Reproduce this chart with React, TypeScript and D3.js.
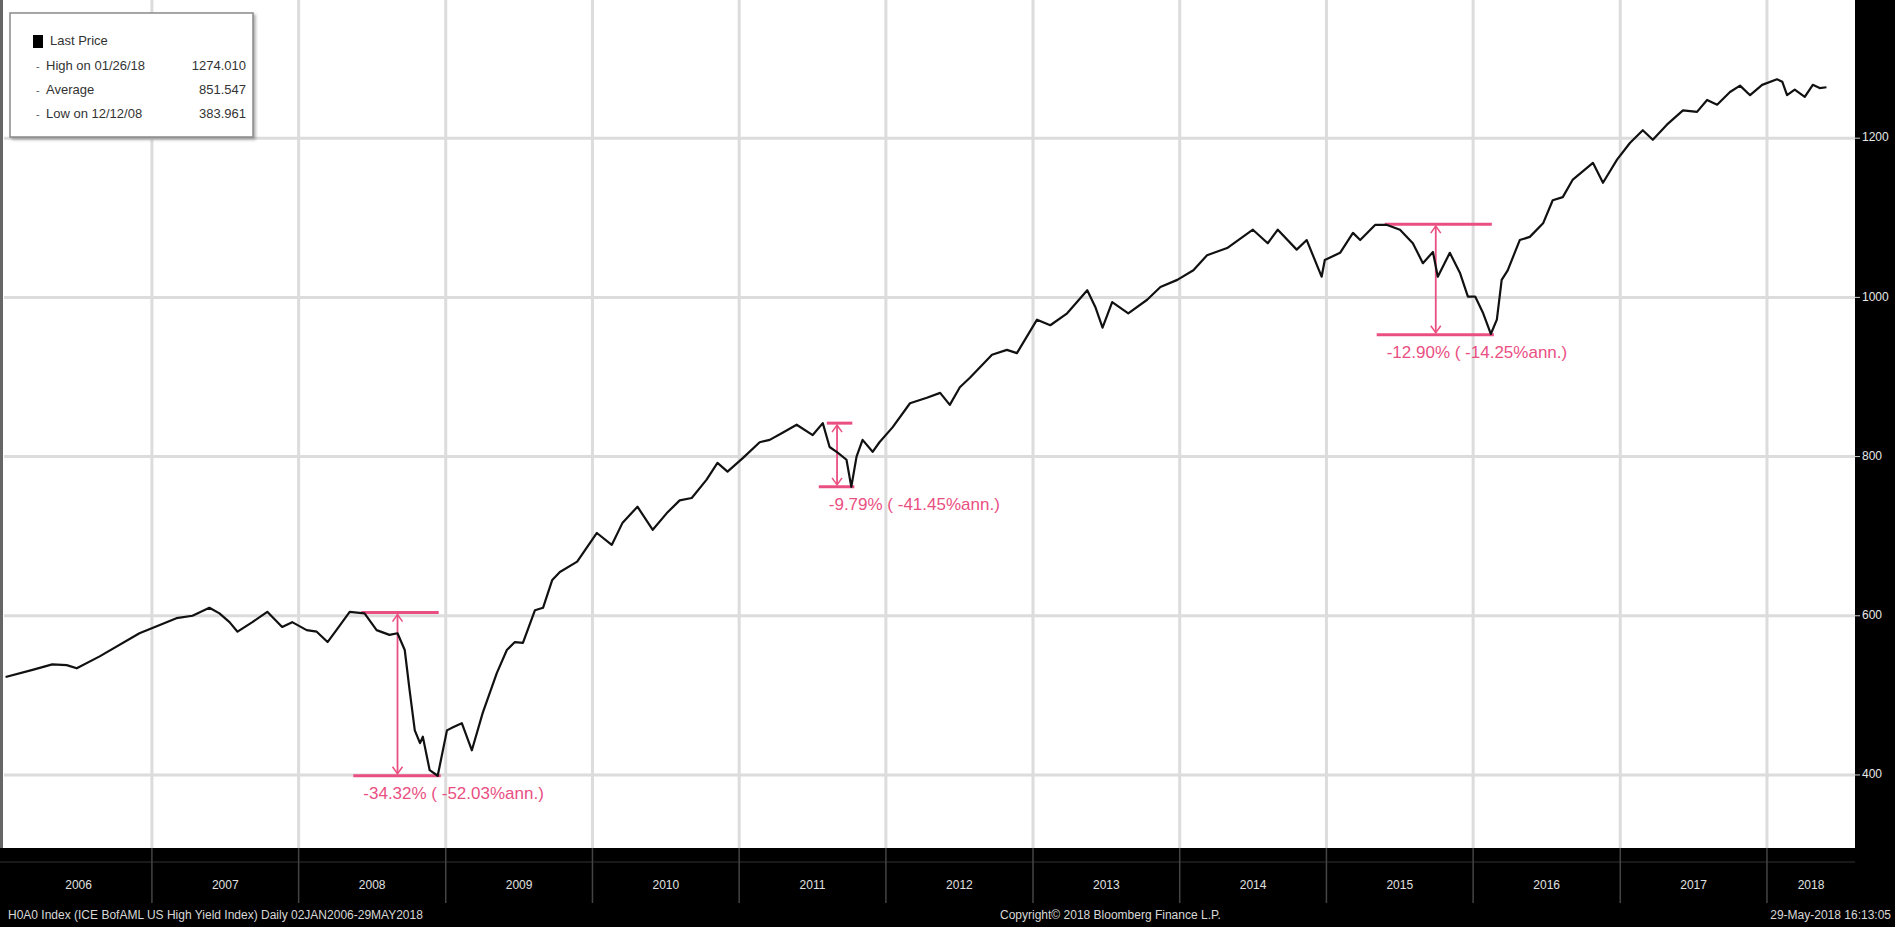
import React from "react";
import * as d3 from "d3";

const W = 1895;
const H = 927;

const dates: string[] = [
  "2006-01-02","2006-03-10","2006-04-28","2006-06-03","2006-06-28","2006-08-24","2006-12-01",
  "2007-03-03","2007-04-12","2007-05-24","2007-06-18","2007-07-13","2007-08-02","2007-09-08","2007-10-15","2007-11-21","2007-12-16",
  "2008-01-21","2008-02-15","2008-03-13","2008-04-04","2008-05-07","2008-06-13","2008-07-13","2008-08-14","2008-09-03","2008-09-21","2008-10-03","2008-10-16","2008-10-29","2008-11-05","2008-11-22","2008-12-12",
  "2009-01-04","2009-01-19","2009-02-10","2009-03-07","2009-04-03","2009-05-08","2009-06-02","2009-06-22","2009-07-12","2009-08-11","2009-08-31","2009-09-23","2009-10-12","2009-11-24",
  "2010-01-12","2010-02-18","2010-03-17","2010-04-23","2010-05-31","2010-07-05","2010-08-06","2010-09-05","2010-10-12","2010-11-08","2010-12-03",
  "2011-01-10","2011-02-21","2011-03-18","2011-04-19","2011-05-24","2011-07-03","2011-07-28","2011-08-14","2011-09-03","2011-09-25","2011-10-07","2011-10-20","2011-11-04","2011-11-29","2011-12-16",
  "2012-01-18","2012-03-01","2012-04-12","2012-05-15","2012-06-08","2012-07-03","2012-07-28","2012-09-21","2012-10-28","2012-11-22",
  "2013-01-11","2013-02-13","2013-03-27","2013-05-16","2013-06-05","2013-06-23","2013-07-17","2013-08-26","2013-10-12","2013-11-14","2013-12-26",
  "2014-02-04","2014-03-10","2014-04-29","2014-07-02","2014-08-08","2014-09-02","2014-10-19","2014-11-13","2014-12-20","2014-12-28",
  "2015-02-04","2015-03-08","2015-03-26","2015-05-02","2015-06-01","2015-07-03","2015-08-04","2015-08-29","2015-09-23","2015-10-05","2015-11-04","2015-11-29","2015-12-19",
  "2016-01-06","2016-01-26","2016-02-14","2016-02-29","2016-03-12","2016-03-27","2016-04-26","2016-05-21","2016-06-23","2016-07-17","2016-08-11","2016-09-05","2016-10-25","2016-11-19","2016-12-24",
  "2017-01-25","2017-02-26","2017-03-23","2017-04-27","2017-06-06","2017-07-11","2017-08-05","2017-08-30","2017-10-01","2017-10-26","2017-11-20","2017-12-20",
  "2018-01-26","2018-02-08","2018-02-20","2018-03-11","2018-04-05","2018-04-25","2018-05-12","2018-05-29",
];

const prices: number[] = [
  523, 532, 539, 538, 534, 549, 578,
  597, 600, 610, 603, 592, 580, 592, 605, 586, 592,
  582, 580, 567, 582, 605, 603, 582, 576, 578, 557, 507, 456, 440, 448, 406, 399,
  456, 460, 465, 431, 478, 528, 557, 567, 566, 607, 610, 645, 655, 668,
  704, 689, 717, 737, 708, 729, 745, 748, 771, 792, 781,
  798, 818, 821, 830, 840, 827, 842, 812, 805, 796, 762, 800, 821, 806, 818,
  837, 867, 874, 880, 865, 887, 899, 928, 934, 930,
  972, 965, 980, 1009, 988, 962, 994, 980, 997, 1013, 1022,
  1034, 1053, 1062, 1085, 1068, 1085, 1060, 1072, 1026, 1047,
  1056, 1081, 1072, 1091, 1091, 1085, 1068, 1043, 1057, 1026, 1056, 1031, 1001,
  1001, 980, 954, 972, 1022, 1034, 1072, 1076, 1093, 1122, 1126, 1148, 1169, 1144, 1173,
  1194, 1210, 1198, 1217, 1235, 1233, 1248, 1242, 1258, 1266, 1254, 1267,
  1274, 1271, 1254, 1261, 1252, 1267, 1263, 1264,
];

const yTicks: number[] = [400, 600, 800, 1000, 1200];
const yearLabels: string[] = ["2006","2007","2008","2009","2010","2011","2012","2013","2014","2015","2016","2017","2018"];

// drawdown annotations
const ddPeakDates: string[] = ["2008-05-26", "2011-07-28", "2015-05-16"];
const ddTroughDates: string[] = ["2008-12-12", "2011-10-07", "2016-02-14"];
const ddPeakValues: number[] = [604, 842, 1092];
const ddTroughValues: number[] = [399, 762, 953];
const ddLabels: string[] = ["-34.32% ( -52.03%ann.)", "-9.79% ( -41.45%ann.)", "-12.90% ( -14.25%ann.)"];

const legendRows: string[] = ["High on 01/26/18", "Average", "Low on 12/12/08"];
const legendValues: string[] = ["1274.010", "851.547", "383.961"];

const footerLeft = "H0A0 Index (ICE BofAML US High Yield Index)  Daily 02JAN2006-29MAY2018";
const footerMid = "Copyright\u00a9 2018 Bloomberg Finance L.P.";
const footerRight = "29-May-2018 16:13:05";

const PLOT_L = 4;
const PLOT_R = 1855;
const PLOT_T = 0;
const PLOT_B = 848;
const PINK = "#ea4f82";
const FONT = "'Liberation Sans', Arial, sans-serif";

export default function App() {
  const parse = d3.timeParse("%Y-%m-%d");
  const data = dates
    .map((d, i) => ({ date: parse(d) as Date, value: prices[i] }))
    .filter((d) => d.value !== undefined);

  const x = d3
    .scaleTime()
    .domain([new Date(2006, 0, 1), new Date(2018, 7, 8)])
    .range([5.2, PLOT_R]);
  const y = d3.scaleLinear().domain([309.5, 1373.6]).range([PLOT_B - 1, PLOT_T]);

  const line = d3
    .line<{ date: Date; value: number }>()
    .x((d) => x(d.date))
    .y((d) => y(d.value))
    .curve(d3.curveLinear);

  const yearStarts = yearLabels.map((yl) => new Date(+yl, 0, 1));
  const yearBounds = yearStarts.slice(1).map((d) => x(d));

  return (
    <svg
      width={W}
      height={H}
      style={{ position: "absolute", left: 0, top: 0, background: "#fff" }}
      fontFamily={FONT}
    >
      <defs>
        <clipPath id="plotClip">
          <rect x={PLOT_L} y={PLOT_T} width={PLOT_R - PLOT_L} height={PLOT_B - PLOT_T} />
        </clipPath>
        <filter id="sh" x="-10%" y="-10%" width="130%" height="130%">
          <feDropShadow dx="2" dy="2" stdDeviation="1.5" floodColor="#777" floodOpacity="0.6" />
        </filter>
      </defs>
      <rect x={0} y={0} width={W} height={H} fill="#fff" />

      {/* grid */}
      <g clipPath="url(#plotClip)">
        {yTicks.map((t) => (
          <line key={"h" + t} x1={PLOT_L} x2={PLOT_R} y1={y(t)} y2={y(t)} stroke="#dcdcdc" strokeWidth={3} />
        ))}
        {yearBounds.map((bx, i) => (
          <line key={"v" + i} x1={bx} x2={bx} y1={PLOT_T} y2={PLOT_B} stroke="#dcdcdc" strokeWidth={3} />
        ))}
      </g>

      {/* drawdown annotations */}
      <g clipPath="url(#plotClip)">
        {ddLabels.map((lab, i) => {
          const px = x(parse(ddPeakDates[i]) as Date);
          const tx = x(parse(ddTroughDates[i]) as Date);
          const py = y(ddPeakValues[i]);
          const ty = y(ddTroughValues[i]);
          const vx = (px + tx) / 2;
          return (
            <g key={"dd" + i}>
              <line x1={px + 4} x2={tx + 1} y1={py} y2={py} stroke={PINK} strokeWidth={3} />
              <line x1={px - 4} x2={tx + 3} y1={ty} y2={ty} stroke={PINK} strokeWidth={3} />
              <line x1={vx} x2={vx} y1={py + 2} y2={ty - 2} stroke={PINK} strokeWidth={1.8} />
              <path d={`M${vx - 5},${py + 9} L${vx},${py + 2} L${vx + 5},${py + 9}`} fill="none" stroke={PINK} strokeWidth={1.5} />
              <path d={`M${vx - 5},${ty - 9} L${vx},${ty - 2} L${vx + 5},${ty - 9}`} fill="none" stroke={PINK} strokeWidth={1.5} />
              <text x={px + 6} y={ty + 19} dominantBaseline="middle" fontSize={17} fill={PINK}>
                {lab}
              </text>
            </g>
          );
        })}
      </g>

      {/* price line */}
      <g clipPath="url(#plotClip)">
        <path d={line(data) || ""} fill="none" stroke="#111" strokeWidth={2.2} strokeLinejoin="round" />
      </g>

      {/* left border */}
      <rect x={0} y={0} width={3} height={PLOT_B} fill="#666" />

      {/* legend */}
      <g>
        <rect x={10} y={13} width={243} height={124} fill="#fff" stroke="#8a8a8a" strokeWidth={1.5} filter="url(#sh)" />
        <rect x={33} y={35} width={10} height={13} fill="#000" />
        <text x={50} y={42} dominantBaseline="middle" fontSize={13} fill="#333">Last Price</text>
        {legendRows.map((r, i) => (
          <g key={"lg" + i}>
            <text x={36} y={67 + i * 24} dominantBaseline="middle" fontSize={11} fill="#555">-</text>
            <text x={46} y={67 + i * 24} dominantBaseline="middle" fontSize={13} fill="#333">{r}</text>
            <text x={246} y={67 + i * 24} dominantBaseline="middle" textAnchor="end" fontSize={13} fill="#333">
              {legendValues[i]}
            </text>
          </g>
        ))}
      </g>

      {/* right axis */}
      <rect x={PLOT_R} y={0} width={W - PLOT_R} height={H} fill="#000" />
      {yTicks.map((t) => (
        <g key={"yl" + t}>
          <line x1={PLOT_R} x2={PLOT_R + 5} y1={y(t)} y2={y(t)} stroke="#ccc" strokeWidth={1} />
          <text x={PLOT_R + 7} y={y(t)} dominantBaseline="middle" fontSize={12} fill="#e8e8e8">
            {t}
          </text>
        </g>
      ))}

      {/* bottom bar */}
      <rect x={0} y={PLOT_B} width={W} height={H - PLOT_B} fill="#000" />
      <line x1={0} x2={PLOT_R} y1={PLOT_B + 14} y2={PLOT_B + 14} stroke="#333" strokeWidth={1} />
      {yearBounds.map((bx, i) => (
        <line key={"yb" + i} x1={bx} x2={bx} y1={PLOT_B} y2={PLOT_B + 55} stroke="#444" strokeWidth={1.5} />
      ))}
      {yearLabels.map((yl, i) => {
        const s = Math.max(x(yearStarts[i]), PLOT_L);
        const e = i + 1 < yearStarts.length ? x(yearStarts[i + 1]) : PLOT_R;
        return (
          <text key={"yt" + yl} x={(s + e) / 2} y={886} textAnchor="middle" dominantBaseline="middle" fontSize={12} fill="#e0e0e0">
            {yl}
          </text>
        );
      })}
      <text x={8} y={916} dominantBaseline="middle" fontSize={12} fill="#d8d8d8">{footerLeft}</text>
      <text x={1000} y={916} dominantBaseline="middle" fontSize={12} fill="#d8d8d8">{footerMid}</text>
      <text x={1891} y={916} dominantBaseline="middle" textAnchor="end" fontSize={12} fill="#d8d8d8">{footerRight}</text>
    </svg>
  );
}
